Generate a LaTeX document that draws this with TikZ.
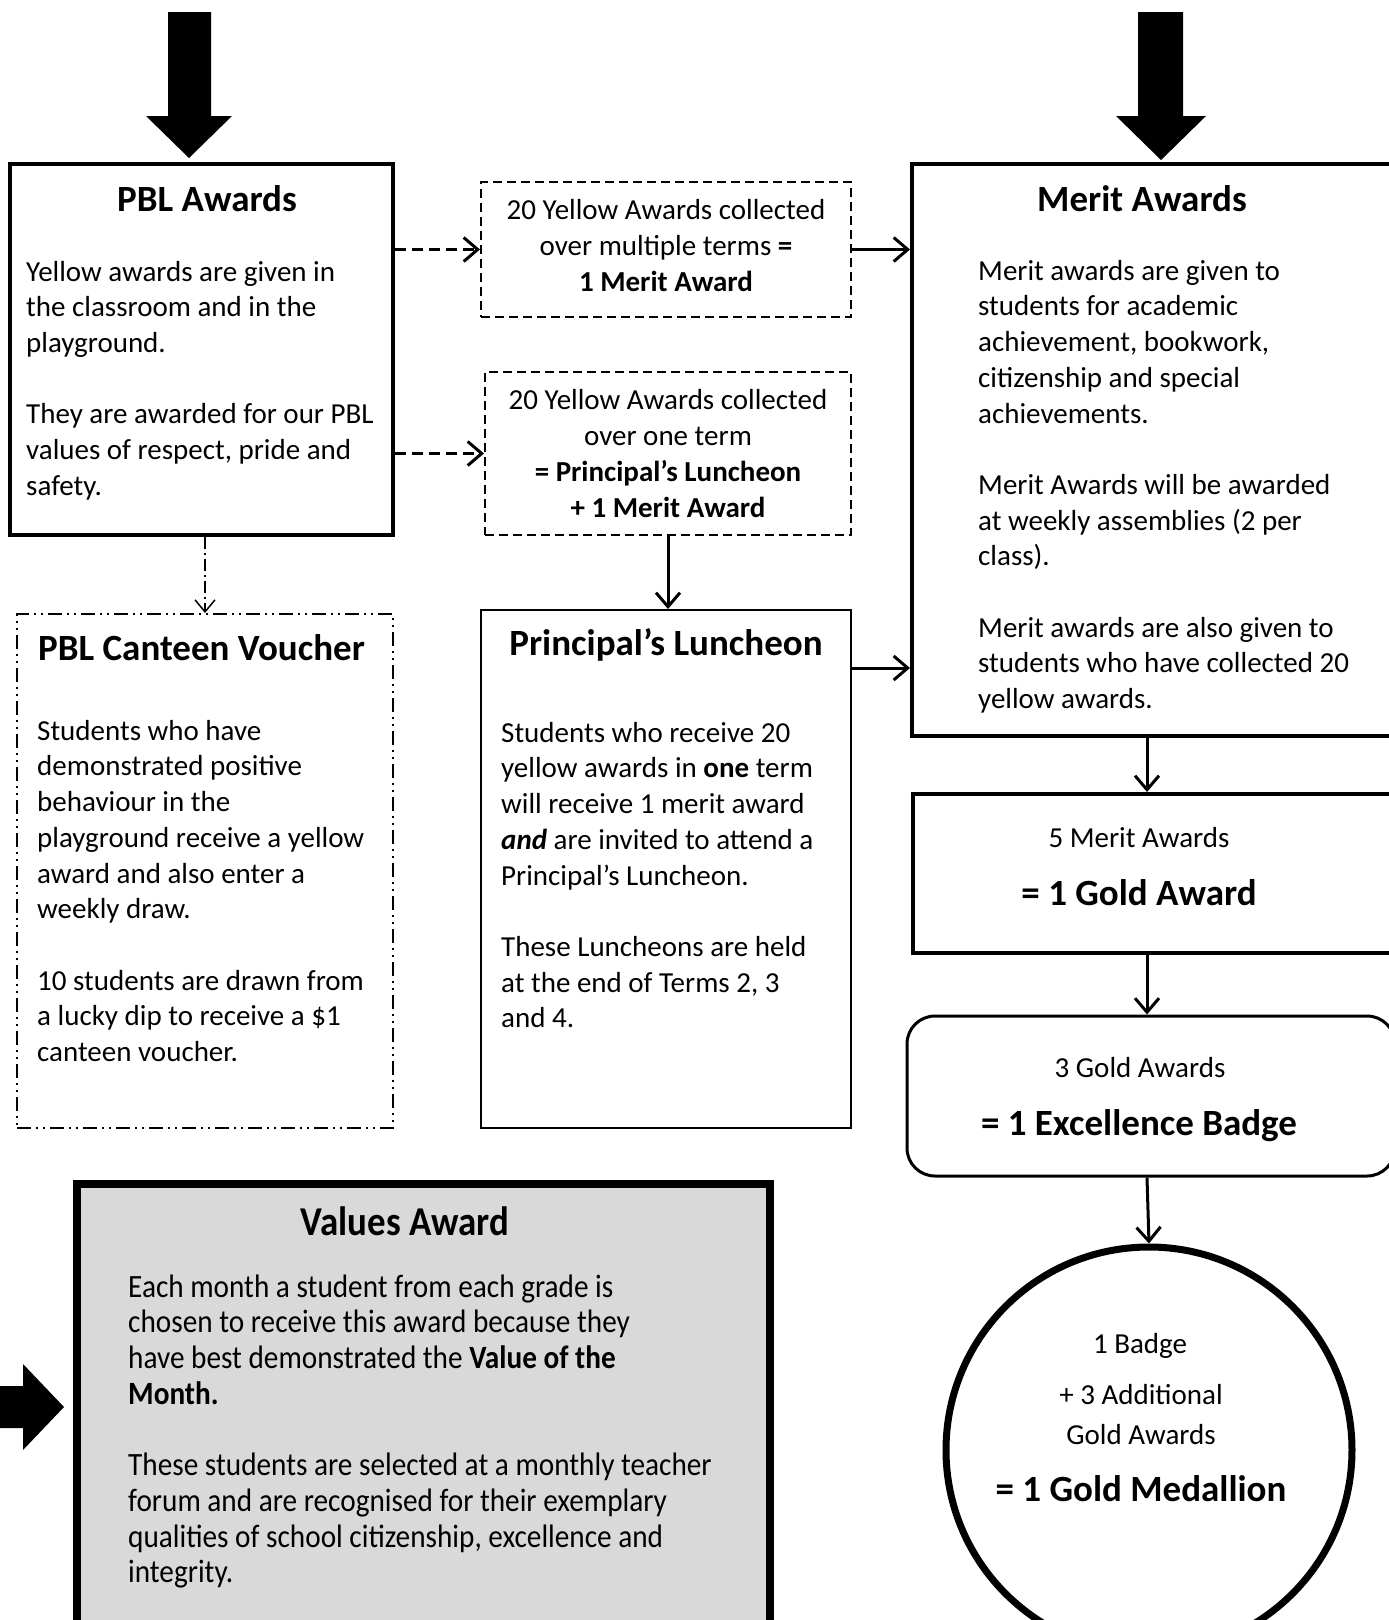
\documentclass[tikz,border=0pt]{standalone}
\usepackage{fontspec}
\setmainfont{Carlito}
\newfontfamily\narrowfont{Carlito}[FakeStretch=0.9]
\usetikzlibrary{arrows.meta}
\definecolor{panelgray}{HTML}{D9D9D9}
\newcommand{\bodyfont}{\fontsize{29}{35.7}\selectfont}
\newcommand{\headfont}{\fontsize{37}{44}\selectfont\bfseries}
\newcommand{\valuesfont}{\narrowfont\fontsize{32.5}{35.7}\selectfont}
\newcommand{\valueshead}{\narrowfont\fontsize{41}{48}\selectfont\bfseries}

\begin{document}
\begin{tikzpicture}[x=1pt, y=-1pt,
    box/.style={draw, line width=4pt, inner sep=0pt},
    thinbox/.style={draw, line width=2pt, inner sep=0pt},
    dashbox/.style={thinbox, dash pattern=on 9pt off 5pt, align=center, font=\bodyfont},
    dotbox/.style={thinbox, dash pattern=on 14pt off 5pt on 2pt off 5pt on 2pt off 5pt},
    link/.style={line width=3pt, -{Straight Barb[length=14pt,width=24pt]}},
    dashlink/.style={link, dash pattern=on 11pt off 6pt},
    dotlink/.style={line width=1.5pt, dash pattern=on 12pt off 4pt on 2pt off 4pt, -{Straight Barb[length=12pt,width=20pt]}},
    head/.style={anchor=base, inner sep=0pt, font=\headfont},
    line/.style={anchor=base, inner sep=0pt, font=\bodyfont},
    body/.style={anchor=north west, inner sep=0pt, align=left, font=\bodyfont}]
    \useasboundingbox (0,0) rectangle (1389,1620);

    % Big arrows
    \fill (168,12) -- (211,12) -- (211,116) -- (232,116) -- (189,158) -- (146,116) -- (168,116) -- cycle;
    \fill (1138,12) -- (1183,12) -- (1183,116) -- (1206,116) -- (1161,160) -- (1116,116) -- (1138,116) -- cycle;
    \fill (-5,1386) -- (23,1386) -- (23,1364) -- (64,1407) -- (23,1450) -- (23,1428) -- (-5,1428) -- cycle;

    % PBL Awards
    \node[box, minimum width=383pt, minimum height=371pt] (pbl) at (201.5,349.5) {};
    \node[head] (pbltitle) at (207,211) {PBL Awards};
    \node[body] (pbltext) at (26,256) {\strut Yellow awards are given in\\the classroom and in the\\playground.\\[35.7pt]They are awarded for our PBL\\values of respect, pride and\\safety.};

    % Yellow award boxes
    \node[dashbox, minimum width=370pt, minimum height=135pt] (multi) at (666,249.5)
        {20 Yellow Awards collected\\over multiple terms \textbf{=}\\\textbf{1 Merit Award}\rule[-8pt]{0pt}{0pt}};
    \node[dashbox, minimum width=366pt, minimum height=163pt] (single) at (668,453.5)
        {20 Yellow Awards collected\\over one term\\\textbf{= Principal’s Luncheon}\\\textbf{+ 1 Merit Award}};

    % Merit Awards
    \node[box, minimum width=483pt, minimum height=572pt] (merit) at (1153.5,450) {};
    \node[head] (merittitle) at (1142,211) {Merit Awards};
    \node[body] (merittext) at (978,255) {\strut Merit awards are given to\\students for academic\\achievement, bookwork,\\citizenship and special\\achievements.\\[35.7pt]Merit Awards will be awarded\\at weekly assemblies (2 per\\class).\\[35.7pt]Merit awards are also given to\\students who have collected 20\\yellow awards.};

    % PBL Canteen Voucher
    \node[dotbox, minimum width=376pt, minimum height=514pt] (canteen) at (205,871) {};
    \node[head, anchor=base west] (canteentitle) at (38,660) {PBL Canteen Voucher};
    \node[body] (canteentext) at (37,715) {\strut Students who have\\demonstrated positive\\behaviour in the\\playground receive a yellow\\award and also enter a\\weekly draw.\\[35.7pt]10 students are drawn from\\a lucky dip to receive a \$1\\canteen voucher.};

    % Principal's Luncheon
    \node[thinbox, minimum width=370pt, minimum height=518pt] (lunch) at (666,869) {};
    \node[head] (lunchtitle) at (666,655) {Principal’s Luncheon};
    \node[body] (lunchtext) at (501,717) {\strut Students who receive 20\\yellow awards in \textbf{one} term\\will receive 1 merit award\\\textbf{\itshape and} are invited to attend a\\Principal’s Luncheon.\\[35.7pt]These Luncheons are held\\at the end of Terms 2, 3\\and 4.};

    % Gold, badge, medallion
    \node[box, minimum width=482pt, minimum height=159pt] (gold) at (1154,873.5) {};
    \node[line] (goldtop) at (1139,847) {5 Merit Awards};
    \node[head] (goldsum) at (1139,905) {= 1 Gold Award};
    \node[draw, line width=3pt, rounded corners=28pt, minimum width=488pt, minimum height=160pt] (badge) at (1151,1096) {};
    \node[line] (badgetop) at (1140,1077) {3 Gold Awards};
    \node[head] (badgesum) at (1139,1135) {= 1 Excellence Badge};
    \node[draw, circle, line width=7pt, minimum size=406pt] (medal) at (1149,1450) {};
    \node[line] (medaltop) at (1140,1353) {1 Badge};
    \node[line] (medalmid) at (1141,1404) {+ 3 Additional};
    \node[line] (medallow) at (1141,1444) {Gold Awards};
    \node[head] (medalsum) at (1141,1501) {= 1 Gold Medallion};

    % Values Award
    \node[draw, fill=panelgray, line width=8pt, minimum width=693pt, minimum height=456pt] (values) at (423.5,1412) {};
    \node[anchor=base, inner sep=0pt, font=\valueshead] (valuestitle) at (405,1235) {Values Award};
    \node[body, font=\valuesfont] (valuestext) at (128,1272) {\strut Each month a student from each grade is\\chosen to receive this award because they\\have best demonstrated the \textbf{Value of the}\\\textbf{Month.}\\[35.7pt]These students are selected at a monthly teacher\\forum and are recognised for their exemplary\\qualities of school citizenship, excellence and\\integrity.};

    % Arrows
    \coordinate (spine) at (1147,0);
    \coordinate (lunchout) at ([yshift=-59pt]lunch.north east);
    \draw[dashlink] (pbl.east |- multi.west) -- (multi.west);
    \draw[dashlink] (pbl.east |- single.west) -- (single.west);
    \draw[link] (multi.east) -- (multi.east -| merit.west);
    \draw[link] (single.south) -- (single.south |- lunch.north);
    \draw[link] (lunchout) -- (lunchout -| merit.west);
    \draw[dotlink] (pbl.south -| canteen.north) -- (canteen.north);
    \draw[link] (merit.south -| spine) -- (gold.north -| spine);
    \draw[link] (gold.south -| spine) -- (badge.north -| spine);
    \draw[link] (badge.south -| spine) -- (medal.north);
\end{tikzpicture}
\end{document}
